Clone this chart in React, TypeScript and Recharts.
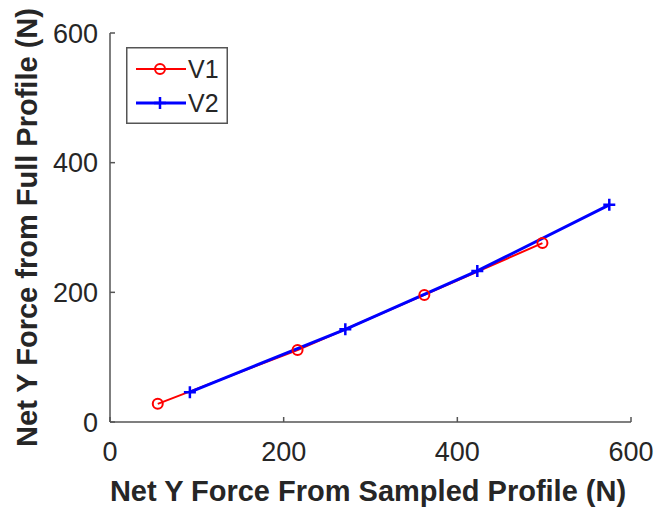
import { LineChart, Line, XAxis, YAxis, Legend, Label } from 'recharts'

const v1X = [55, 216, 362, 498]
const v1Y = [28, 111, 196, 276]
const v2X = [92, 271, 423, 575]
const v2Y = [46, 143, 233, 335]
const xTicks = [0, 200, 400, 600]
const yTicks = [0, 200, 400, 600]
const xTitle = 'Net Y Force From Sampled Profile (N)'
const yTitle = 'Net Y Force from Full Profile (N)'

const v1 = v1X.map((x, i) => ({ x, y: v1Y[i] }))
const v2 = v2X.map((x, i) => ({ x, y: v2Y[i] }))

const W = 657
const H = 509
const LEFT = 110
const TOP = 33
const RIGHT = 631
const BOTTOM = 422

const FONT = '"Liberation Sans", Arial, Helvetica, sans-serif'
const AXIS = '#555555'
const TEXT = '#262626'
const TITLE_SIZE = 29

function PlusDot(props: any) {
  const { cx, cy } = props
  if (cx == null || cy == null) return null
  const s = 6
  return (
    <path
      d={`M${cx - s},${cy}H${cx + s}M${cx},${cy - s}V${cy + s}`}
      stroke="#0000ff"
      strokeWidth={2.5}
      fill="none"
    />
  )
}

function LegendBox(props: any) {
  const items = props.payload || []
  return (
    <svg width={102} height={77} style={{ display: 'block' }}>
      <rect x={0.75} y={0.75} width={100.5} height={75.5} fill="#fff" stroke={AXIS} strokeWidth={1.5} />
      {items.map((it: any, i: number) => {
        const cy = 22 + i * 34
        const color = it.color
        return (
          <g key={it.value}>
            <line x1={10} x2={60} y1={cy} y2={cy} stroke={color} strokeWidth={i === 0 ? 2 : 3} />
            {i === 0 ? (
              <circle cx={34} cy={cy} r={5} stroke={color} strokeWidth={2} fill="none" />
            ) : (
              <PlusDot cx={34} cy={cy} />
            )}
            <text x={62} y={cy + 9} fontSize={25} fontFamily={FONT} fill={TEXT}>
              {it.value}
            </text>
          </g>
        )
      })}
    </svg>
  )
}

export default function App() {
  const yMid = (TOP + BOTTOM) / 2
  return (
    <div style={{ position: 'absolute', left: 0, top: 0, background: '#fff', fontFamily: FONT }}>
      <LineChart
        width={W}
        height={H}
        margin={{ top: TOP, right: W - RIGHT, bottom: 0, left: 0 }}
      >
        <XAxis
          type="number"
          dataKey="x"
          domain={[0, 600]}
          ticks={xTicks}
          interval={0}
          height={H - BOTTOM}
          tickSize={-5}
          tickMargin={25}
          axisLine={{ stroke: AXIS, strokeWidth: 1.5 }}
          tickLine={{ stroke: AXIS, strokeWidth: 1.5 }}
          tick={{ fill: TEXT, fontSize: 27, fontFamily: FONT }}
        >
          <Label
            content={() => (
              <text
                x={368}
                y={501}
                textAnchor="middle"
                fontSize={TITLE_SIZE}
                fontWeight="bold"
                fontFamily={FONT}
                fill={TEXT}
              >
                {xTitle}
              </text>
            )}
          />
        </XAxis>
        <YAxis
          type="number"
          dataKey="y"
          domain={[0, 600]}
          ticks={yTicks}
          interval={0}
          width={LEFT}
          tickSize={-5}
          tickMargin={17}
          axisLine={{ stroke: AXIS, strokeWidth: 1.5 }}
          tickLine={{ stroke: AXIS, strokeWidth: 1.5 }}
          tick={{ fill: TEXT, fontSize: 27, fontFamily: FONT }}
        >
          <Label
            content={() => (
              <text
                x={37}
                y={yMid}
                transform={`rotate(-90, 37, ${yMid})`}
                textAnchor="middle"
                fontSize={TITLE_SIZE}
                fontWeight="bold"
                fontFamily={FONT}
                fill={TEXT}
              >
                {yTitle}
              </text>
            )}
          />
        </YAxis>
        <Legend
          layout="vertical"
          align="center"
          verticalAlign="middle"
          wrapperStyle={{ left: 126, top: 47, width: 102, height: 77 }}
          content={LegendBox}
        />
        <Line
          data={v1}
          dataKey="y"
          name="V1"
          stroke="#ff0000"
          strokeWidth={2}
          dot={{ r: 5, stroke: '#ff0000', strokeWidth: 2, fill: 'none' }}
          activeDot={false}
          isAnimationActive={false}
        />
        <Line
          data={v2}
          dataKey="y"
          name="V2"
          stroke="#0000ff"
          strokeWidth={3}
          dot={<PlusDot />}
          activeDot={false}
          isAnimationActive={false}
        />
      </LineChart>
    </div>
  )
}
